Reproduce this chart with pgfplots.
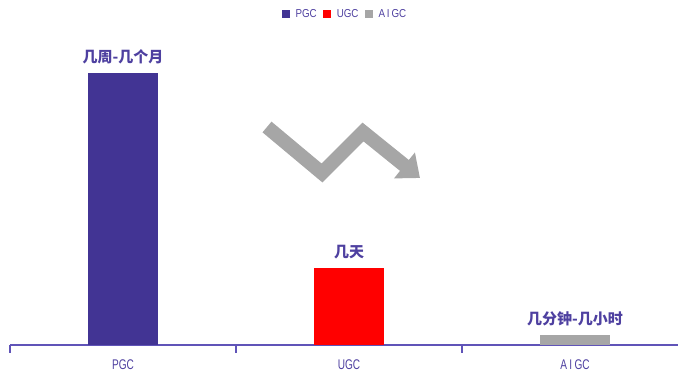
\documentclass[border=0pt]{standalone}
\usepackage{pgfplots}
\pgfplotsset{compat=1.18}
\usepackage{fontspec}
\usetikzlibrary{arrows.meta}
\setmainfont{Liberation Sans}
\newfontfamily\narrowfont[FakeStretch=0.72]{Liberation Sans}
\newfontfamily\legendfont[FakeStretch=0.85]{Liberation Sans}
\newfontfamily\cjk{Noto Sans CJK SC}

\definecolor{pgccol}{RGB}{66,52,148}
\definecolor{ugccol}{RGB}{255,0,0}
\definecolor{aigccol}{RGB}{166,166,166}
\definecolor{inkcol}{RGB}{78,64,160}
\definecolor{axiscol}{RGB}{96,84,184}

\pgfplotstableread{
x y label
0 100 几周-几个月
}\pgcdata
\pgfplotstableread{
x y label
1 28.3 几天
}\ugcdata
\pgfplotstableread{
x y label
2 3.5 几分钟-几小时
}\aigcdata

\begin{document}
\begin{tikzpicture}[x=1pt,y=1pt]
\path[use as bounding box] (0,0) rectangle (678,371);
\begin{axis}[
  at={(10pt,26pt)}, anchor=south west,
  scale only axis, width=678pt, height=326pt,
  xmin=-0.5, xmax=2.5, ymin=0, ymax=120,
  axis x line=bottom, axis y line=none,
  x axis line style={-, draw=axiscol, line width=1.6pt},
  xtick={0,1,2}, xticklabels={PGC,UGC,A\,I\,GC},
  major x tick style={draw=none},
  minor xtick={-0.5,0.5,1.5,2.5},
  minor x tick style={draw=axiscol, line width=1.2pt},
  minor tick length=8pt, tick align=inside,
  xticklabel style={font=\narrowfont\fontsize{14}{16}\selectfont, text=inkcol, yshift=-7pt},
  ybar, bar width=70pt,
  point meta=explicit symbolic,
  nodes near coords,
  every node near coord/.append style={font=\cjk\bfseries\fontsize{15}{17}\selectfont, text=inkcol, yshift=6pt},
  legend columns=-1,
  legend style={at={(0.494,1.015)}, anchor=center, draw=none, fill=none,
    font=\legendfont\fontsize{11.5}{13}\selectfont, text=inkcol,
    /tikz/every odd column/.append style={column sep=4pt},
    /tikz/every even column/.append style={column sep=4pt}, inner sep=0pt},
  legend image code/.code={\fill[#1] (0pt,-4pt) rectangle (8pt,4pt);},
]
\addplot[fill=pgccol, draw=none, bar shift=0pt] table[x=x, y=y, meta=label] {\pgcdata};
\addlegendentry{PGC}
\addplot[fill=ugccol, draw=none, bar shift=0pt] table[x=x, y=y, meta=label] {\ugcdata};
\addlegendentry{UGC}
\addplot[fill=aigccol, draw=none, bar shift=0pt] table[x=x, y=y, meta=label] {\aigcdata};
\addlegendentry{A\,I\,GC}
\end{axis}
% falling zig-zag trend arrow
\draw[aigccol, line width=14pt, line join=miter, line cap=butt,
  -{Triangle[width=32pt,length=20pt]}]
  (267,244) -- (322,198) -- (363,239) -- (420,193);
\end{tikzpicture}
\end{document}
